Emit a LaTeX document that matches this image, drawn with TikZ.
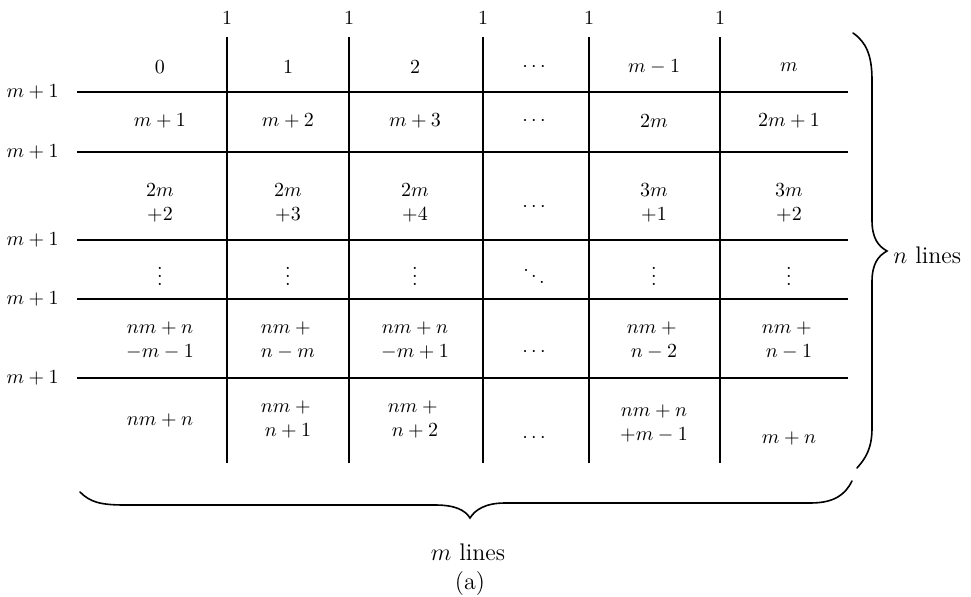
\documentclass[tikz,border=0pt]{standalone}
\begin{document}
\begin{tikzpicture}[x=0.5pt,y=-0.5pt,
  every node/.style={inner sep=0pt},
  cell/.style={align=center},
  biglabel/.style={font=\large},
  gridline/.style={line width=0.7pt},
  bracepath/.style={line width=0.8pt, line cap=round}]
\useasboundingbox (0,0) rectangle (971,596);
% grid
\foreach \x [count=\i] in {227,349,483,589,720} {
  \draw[gridline] (\x,37) -- (\x,463);
  \node (top\i) at (\x,18) {$1$};
}
\foreach \y [count=\i] in {92,152,240,299,378} {
  \draw[gridline] (77,\y) -- (848,\y);
  \node[anchor=east] (lab\i) at (59,\y) {$m+1$};
}
% row 0
\node[cell] (c00) at (160,67) {$0$};
\node[cell] (c01) at (288,67) {$1$};
\node[cell] (c02) at (415,67) {$2$};
\node[cell] (c03) at (534,67) {$\cdots$};
\node[cell] (c04) at (654,67) {$m-1$};
\node[cell] (c05) at (789,67) {$m$};
% row 1
\node[cell] (c10) at (160,121) {$m+1$};
\node[cell] (c11) at (288,121) {$m+2$};
\node[cell] (c12) at (415,121) {$m+3$};
\node[cell] (c13) at (534,121) {$\cdots$};
\node[cell] (c14) at (654,121) {$2m$};
\node[cell] (c15) at (789,121) {$2m+1$};
% row 2
\node[cell] (c20) at (160,203) {$2m$\\$+2$};
\node[cell] (c21) at (288,203) {$2m$\\$+3$};
\node[cell] (c22) at (415,203) {$2m$\\$+4$};
\node[cell] (c23) at (534,207) {$\cdots$};
\node[cell] (c24) at (654,203) {$3m$\\$+1$};
\node[cell] (c25) at (789,203) {$3m$\\$+2$};
% row 3
\node[cell] (c30) at (160,270) {$\vdots$};
\node[cell] (c31) at (288,270) {$\vdots$};
\node[cell] (c32) at (415,270) {$\vdots$};
\node[cell] (c33) at (534,270) {$\ddots$};
\node[cell] (c34) at (654,270) {$\vdots$};
\node[cell] (c35) at (789,270) {$\vdots$};
% row 4
\node[cell] (c40) at (160,340) {$nm+n$\\$-m-1$};
\node[cell] (c41) at (288,340) {$nm+{}$\\$n-m$};
\node[cell] (c42) at (415,340) {$nm+n$\\$-m+1$};
\node[cell] (c43) at (534,352) {$\cdots$};
\node[cell] (c44) at (654,340) {$nm+{}$\\$n-2$};
\node[cell] (c45) at (789,340) {$nm+{}$\\$n-1$};
% row 5
\node[cell] (c50) at (160,420) {$nm+n$};
\node[cell] (c51) at (288,419) {$nm+{}$\\$n+1$};
\node[cell] (c52) at (415,419) {$nm+{}$\\$n+2$};
\node[cell] (c53) at (534,438) {$\cdots$};
\node[cell] (c54) at (654,423) {$nm+n$\\$+m-1$};
\node[cell] (c55) at (789,438) {$m+n$};
% right brace
\draw[bracepath] (853,33) .. controls (866,42) and (872,55) .. (872,80)
  -- (872,220) .. controls (872,238) and (878,246) .. (887,251)
  .. controls (878,256) and (872,264) .. (872,282)
  -- (872,428) .. controls (872,448) and (866,458) .. (857,468);
\node[anchor=west,biglabel] (nlines) at (893,255) {$n$ lines};
% bottom brace
\draw[bracepath] (80,492) .. controls (90,502) and (100,505) .. (125,505)
  -- (435,505) .. controls (455,505) and (465,510) .. (470,518)
  .. controls (475,510) and (485,503) .. (505,503)
  -- (810,503) .. controls (834,503) and (845,495) .. (852,481);
\node[biglabel] (mlines) at (468,552) {$m$ lines};
\node[biglabel] (cap) at (470,584) {(a)};
\end{tikzpicture}
\end{document}
